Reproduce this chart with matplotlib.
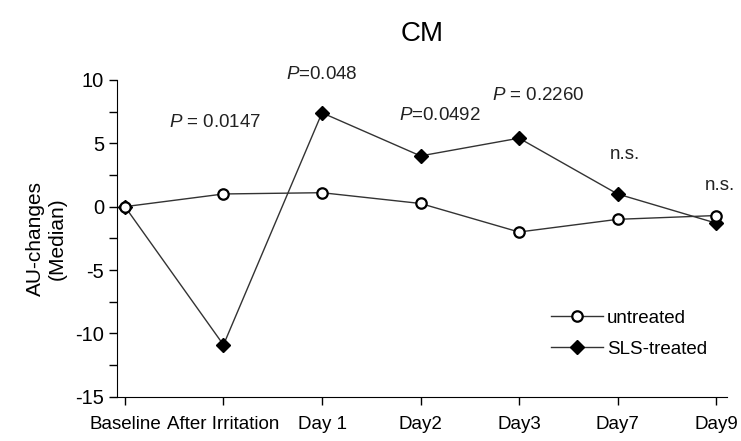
import matplotlib
matplotlib.use("Agg")
import matplotlib.pyplot as plt
from matplotlib.ticker import MultipleLocator

plt.rcParams['font.family'] = ['Liberation Sans', 'DejaVu Sans']
plt.rcParams['axes.unicode_minus'] = False
plt.rcParams['mathtext.fontset'] = 'custom'
plt.rcParams['mathtext.it'] = 'Liberation Sans:italic'
plt.rcParams['mathtext.rm'] = 'Liberation Sans'

# data
labels = ['Baseline', 'After Irritation', 'Day 1', 'Day2', 'Day3', 'Day7', 'Day9']
untreated = [0, 1.0, 1.1, 0.25, -2.0, -1.0, -0.7]
sls_treated = [0, -10.9, 7.4, 4.0, 5.4, 1.0, -1.3]
p_texts = ['$P$ = 0.0147', '$P$=0.048', '$P$=0.0492', '$P$ = 0.2260', 'n.s.', 'n.s.']
p_x = [0.92, 2.0, 3.2, 4.2, 5.07, 6.04]
p_y = [6.6, 10.4, 7.2, 8.8, 4.1, 1.7]

x = list(range(len(labels)))

fig = plt.figure(figsize=(7.41, 4.41), dpi=100)
ax = fig.add_axes([0.158, 0.1, 0.823, 0.719])

ax.plot(x, sls_treated, color='#333333', lw=1, marker='D', ms=7,
        mfc='black', mec='black', label='SLS-treated', zorder=3)
ax.plot(x, untreated, color='#333333', lw=1, marker='o', ms=7.5,
        mfc='white', mec='black', mew=1.6, label='untreated', zorder=4)

for t, px, py in zip(p_texts, p_x, p_y):
    ax.text(px, py, t, ha='center', va='center', fontsize=13.5, color='#222222')

ax.set_xlim(-0.08, 6.11)
ax.set_ylim(-15, 10)
ax.set_xticks(x)
ax.set_xticklabels(labels, fontsize=13.5)
ax.yaxis.set_major_locator(MultipleLocator(5))
ax.yaxis.set_minor_locator(MultipleLocator(2.5))
ax.tick_params(axis='y', labelsize=14.5, length=6, width=1, direction='out')
ax.tick_params(axis='y', which='minor', length=6, width=1)
ax.tick_params(axis='x', length=6, width=1, pad=8)
ax.spines['top'].set_visible(False)
ax.spines['right'].set_visible(False)
ax.set_ylabel('AU-changes\n(Median)', fontsize=15, labelpad=6)
ax.set_title('CM', fontsize=20, pad=28)

handles, lbls = ax.get_legend_handles_labels()
ax.legend(handles[::-1], lbls[::-1], loc='lower right', bbox_to_anchor=(0.995, 0.07),
          frameon=False, fontsize=13.5, handlelength=2.8, labelspacing=0.75,
          handletextpad=0.2)

fig.savefig('out.png', dpi=100)
